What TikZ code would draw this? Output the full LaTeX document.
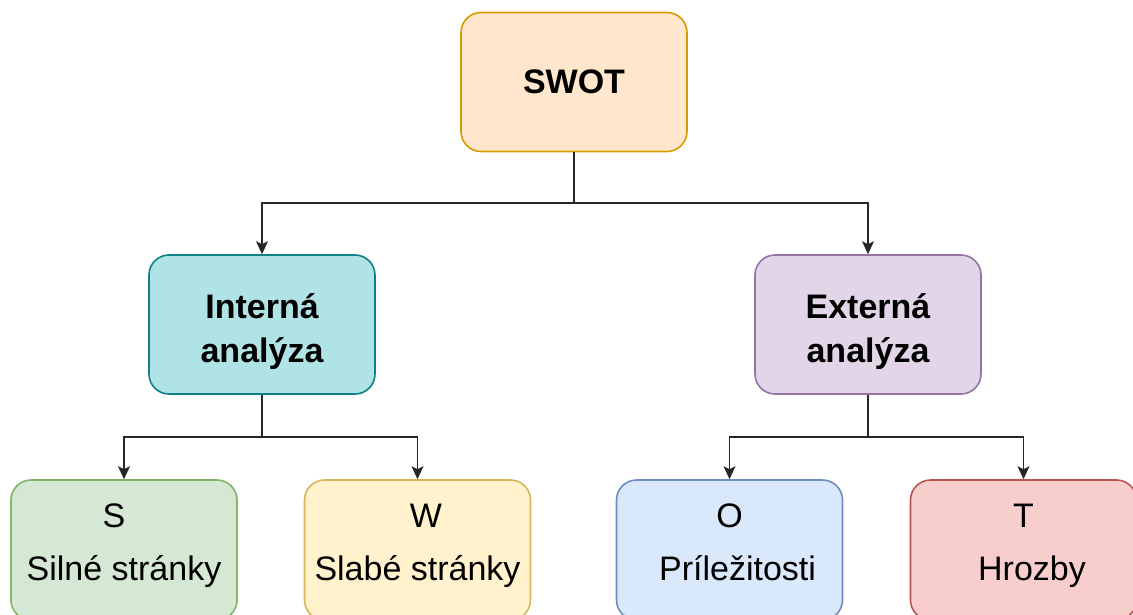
\documentclass[tikz,border=0pt]{standalone}
\usepackage{fontspec}
\setmainfont{Liberation Sans}
\usetikzlibrary{arrows.meta}

\definecolor{swotfill}{HTML}{FFE6CC}\definecolor{swotline}{HTML}{D79B00}
\definecolor{intfill}{HTML}{B0E3E6}\definecolor{intline}{HTML}{0E8088}
\definecolor{extfill}{HTML}{E1D5E7}\definecolor{extline}{HTML}{9673A6}
\definecolor{sfill}{HTML}{D5E8D4}\definecolor{sline}{HTML}{82B366}
\definecolor{wfill}{HTML}{FFF2CC}\definecolor{wline}{HTML}{D6B656}
\definecolor{ofill}{HTML}{DAE8FC}\definecolor{oline}{HTML}{6C8EBF}
\definecolor{tfill}{HTML}{F8CECC}\definecolor{tline}{HTML}{B85450}

% invisible horizontal padding inside a centred line
\newcommand{\padw}[1]{\rule{#1}{0pt}}

\tikzset{
  box/.style={draw, line width=1.6pt, rounded corners=20pt, inner sep=0pt,
    minimum width=226pt, minimum height=139pt, align=center},
  % single-line title
  headbox/.style={box, font=\fontsize{34}{41}\selectfont\bfseries},
  % two bold lines, last baseline 37.5pt below the centre
  midbox/.style={box, font=\fontsize{34}{44}\selectfont\bfseries,
    text height=75pt, text depth=0pt},
  % letter above the full name, last baseline 30pt below the centre
  leafbox/.style={box, minimum height=140pt, font=\fontsize{34}{53}\selectfont,
    text height=60pt, text depth=0pt},
  link/.style={line width=1.6pt, draw=black!85},
  arrow/.style={link, -{Stealth[length=13pt, width=12pt, inset=3pt]}}
}

\begin{document}
\begin{tikzpicture}[x=1pt, y=-1pt]
  \useasboundingbox (0,0) rectangle (1133,614);

  % top and middle level
  \node[headbox, fill=swotfill, draw=swotline] (swot) at (574,82) {SWOT};
  \node[midbox, fill=intfill, draw=intline] (int) at (262,324.5) {Interná\\analýza};
  \node[midbox, fill=extfill, draw=extline] (ext) at (868,324.5) {Externá\\analýza};

  % leaves
  \node[leafbox, fill=sfill, draw=sline] (s) at (124,550) {S\padw{20pt}\\Silné stránky};
  \node[leafbox, fill=wfill, draw=wline] (w) at (417.5,550) {\padw{17pt}W\\Slabé stránky};
  \node[leafbox, fill=ofill, draw=oline] (o) at (729.5,550) {O\\\padw{16pt}Príležitosti};
  \node[leafbox, fill=tfill, draw=tline] (t) at (1023.5,550) {T\\\padw{17pt}Hrozby};

  % branch points
  \coordinate (swot-split) at (574,203);
  \coordinate (int-split) at (262,437);
  \coordinate (ext-split) at (868,437);

  % connectors
  \draw[link] (swot.south) -- (swot-split);
  \draw[arrow] (swot-split) -| (int.north);
  \draw[arrow] (swot-split) -| (ext.north);

  \draw[link] (int.south) -- (int-split);
  \draw[arrow] (int-split) -| (s.north);
  \draw[arrow] (int-split) -| (w.north);

  \draw[link] (ext.south) -- (ext-split);
  \draw[arrow] (ext-split) -| (o.north);
  \draw[arrow] (ext-split) -| (t.north);
\end{tikzpicture}
\end{document}
